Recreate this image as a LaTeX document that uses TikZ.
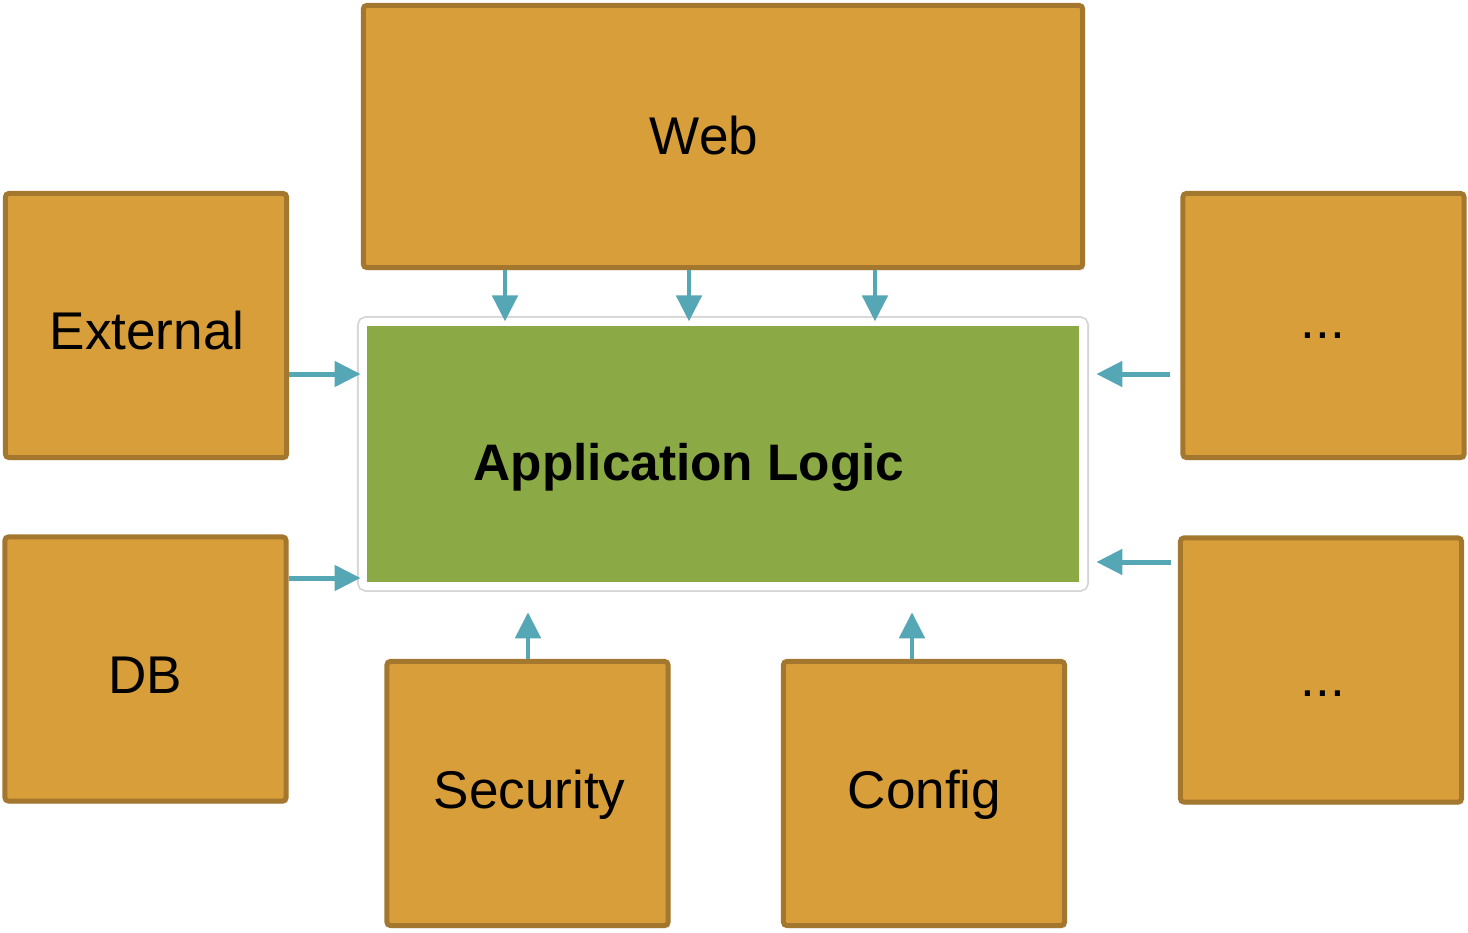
\documentclass[tikz,border=0pt]{standalone}
\usepackage{fontspec}
\setmainfont{Liberation Sans}
\usetikzlibrary{arrows.meta,shadows}

\definecolor{modfill}{RGB}{216,158,58}
\definecolor{moddraw}{RGB}{164,119,46}
\definecolor{appfill}{RGB}{139,170,69}
\definecolor{flowcol}{RGB}{86,167,181}

\begin{document}
\begin{tikzpicture}[x=0.01cm,y=-0.01cm,
  modbox/.style={draw=moddraw,fill=modfill,line width=1.42pt,rounded corners=1pt,inner sep=0pt,
    minimum width=2.81cm,minimum height=2.64cm,
    drop shadow={shadow xshift=0.6pt,shadow yshift=-0.8pt,opacity=0.18}},
  appbox/.style={draw=white,fill=appfill,line width=2.28pt,rounded corners=1pt,inner sep=0pt,
    minimum width=7.2cm,minimum height=2.64cm,
    preaction={draw=black!16,line width=3.3pt}},
  lbl/.style={anchor=base,inner sep=0pt,font=\fontsize{15.1}{18}\selectfont},
  flow/.style={draw=flowcol,line width=1.42pt,-{Triangle[length=7.4pt,width=7.1pt]}}]

\useasboundingbox (0,0) rectangle (1468,933);

\node [appbox] (app) at (723,454) {};

\node [modbox,minimum width=7.19cm,minimum height=2.62cm] (web) at (723,136.5) {};
\node [modbox] (ext) at (146,325.5) {};
\node [modbox] (db) at (145.5,669) {};
\node [modbox] (sec) at (527.5,793.5) {};
\node [modbox] (cfg) at (924,793.5) {};
\node [modbox] (rtop) at (1323.5,325.5) {};
\node [modbox] (rbot) at (1321,670) {};

\node [lbl] (webtxt) at (704,154) {Web};
\node [lbl] (exttxt) at (147,349) {External};
\node [lbl] (dbtxt) at (145.5,693) {DB};
\node [lbl] (sectxt) at (529.5,808) {Security};
\node [lbl] (cfgtxt) at (924.5,808) {Config};
\node [lbl] (rtoptxt) at (1323,338) {...};
\node [lbl] (rbottxt) at (1323,696) {...};
\node [lbl,font=\fontsize{14.6}{18}\selectfont\bfseries] (apptxt) at (689,480) {Application Logic};

% web feeds the logic from above
\draw [flow,shorten >=-1pt] (web.south -| 505,0) -- (app.north -| 505,0);
\draw [flow,shorten >=-1pt] (web.south -| 689,0) -- (app.north -| 689,0);
\draw [flow,shorten >=-1pt] (web.south -| 875,0) -- (app.north -| 875,0);

\draw [flow,shorten >=-0.5pt] (ext.east |- 0,374) -- (app.west |- 0,374);
\draw [flow,shorten >=-0.5pt] (db.east |- 0,578) -- (app.west |- 0,578);

\draw [flow,shorten <=2.85pt,shorten >=2.6pt] (rtop.west |- 0,374) -- (app.east |- 0,374);
\draw [flow,shorten <=2.0pt,shorten >=2.6pt] (rbot.west |- 0,562) -- (app.east |- 0,562);

\draw [flow,shorten >=6.3pt] (sec.north -| 528,0) -- (app.south -| 528,0);
\draw [flow,shorten >=6.3pt] (cfg.north -| 912,0) -- (app.south -| 912,0);

\end{tikzpicture}
\end{document}
